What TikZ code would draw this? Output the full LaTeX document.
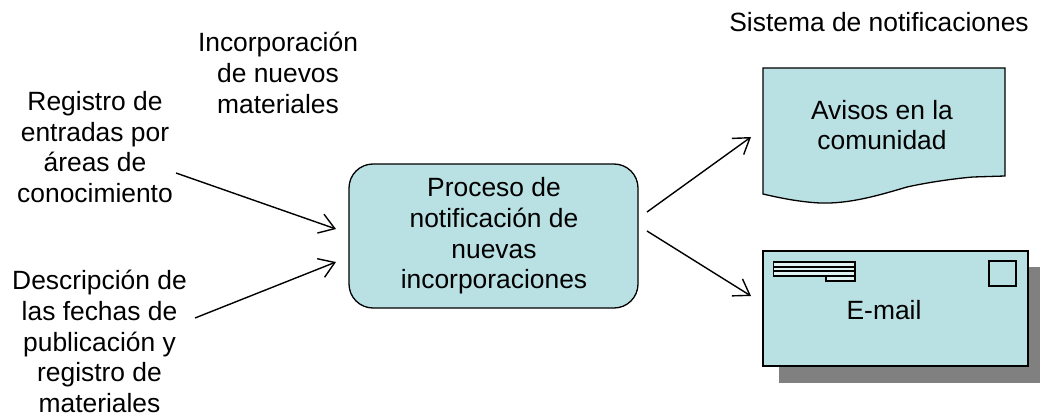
\documentclass[tikz,border=0pt]{standalone}
\usepackage{fontspec}
\setmainfont{Liberation Sans}
\usetikzlibrary{arrows.meta}
\definecolor{fillc}{HTML}{B9E0E3}
\definecolor{shadowc}{HTML}{808080}
\begin{document}
\begin{tikzpicture}[x=1pt,y=-1pt,
  lbl/.style={align=center,font=\fontsize{26.4}{30.6}\selectfont,inner sep=0pt,text=black,anchor=center},
  arr/.style={draw=black,line width=1.4pt,-{Straight Barb[length=15pt,width=20pt,line width=1.4pt]}},
  shp/.style={draw=black,line width=1.3pt,fill=fillc},
  adr/.style={draw=black,line width=1.7pt,fill=fillc!45!white}]
\useasboundingbox (0,0) rectangle (1040,417);
\fill[white] (0,0) rectangle (1040,417);
\node[lbl] (sis) at (879,22) {Sistema de notificaciones};
\node[lbl] (inc) at (278,73) {Incorporación\\de nuevos\\materiales};
\node[lbl] (reg) at (95,147) {Registro de\\entradas por\\áreas de\\conocimiento};
\node[lbl] (des) at (99.5,341.5) {Descripción de\\las fechas de\\publicación y\\registro de\\materiales};
\draw[shp,rounded corners=24pt] (349,164) rectangle (638,308);
\node[lbl] (proc) at (494,236) {Proceso de\\notificación de\\nuevas\\incorporaciones};
\draw[shp] (763,68) -- (1005,68) -- (1005,176) -- (973,177) .. controls (950,179) and (925,183) .. (907,187) .. controls (880,195) and (850,204) .. (820,203) .. controls (800,202) and (780,198) .. (763,194) -- cycle;
\node[lbl] (av) at (882,125) {Avisos en la\\comunidad};
\fill[shadowc] (779,267) rectangle (1040,383);
\draw[shp] (763,251) rectangle (1028,366);
\node[lbl] (em) at (884,310) {E-mail};
\draw[shp] (989,261) rectangle (1016,286);
\draw[adr] (826,276) rectangle (855,281);
\draw[adr] (773.5,262) rectangle (855,267);
\draw[adr] (773.5,267) rectangle (855,271.2);
\draw[adr] (773.5,271.2) rectangle (855,276);
\coordinate (a1) at (176,173);\coordinate (a2) at (336,229);
\coordinate (b1) at (195,318);\coordinate (b2) at (336,262);
\coordinate (c1) at (647,212);\coordinate (c2) at (751,137);
\coordinate (d1) at (647,231);\coordinate (d2) at (751,296);
\draw[arr] (a1)--(a2);\draw[arr] (b1)--(b2);\draw[arr] (c1)--(c2);\draw[arr] (d1)--(d2);
\end{tikzpicture}
\end{document}
